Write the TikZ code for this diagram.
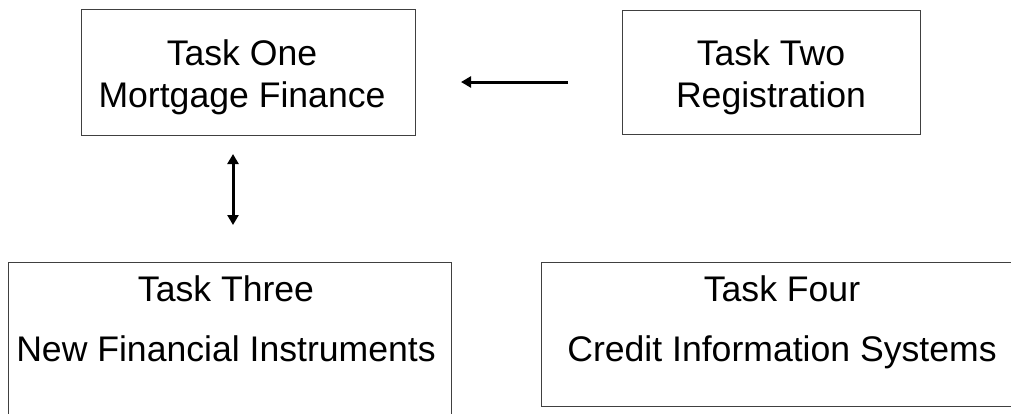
\documentclass[tikz,border=0pt]{standalone}
\usepackage{fontspec}
\setmainfont{Liberation Sans}
\usetikzlibrary{arrows.meta}
\begin{document}
\begin{tikzpicture}[x=1pt,y=-1pt,
  box/.style={draw=black!75, line width=1pt, inner sep=0pt, outer sep=0pt},
  lbl/.style={align=center, inner sep=0pt, font=\fontsize{35.6}{42}\selectfont},
  lblwide/.style={align=center, inner sep=0pt, font=\fontsize{35.6}{60}\selectfont},
  link/.style={line width=3pt},
  tip/.tip={Triangle[length=10pt,width=11pt]}]
\useasboundingbox (0,0) rectangle (1011,413);
% boxes
\node[box, minimum width=334, minimum height=126] (t1) at (248,72.5) {};
\node[box, minimum width=298, minimum height=124] (t2) at (771,72) {};
\node[box, minimum width=443, minimum height=180] (t3) at (229.5,352) {};
\node[box, minimum width=482, minimum height=144] (t4) at (782,334) {};
% labels
\node[lbl] (l1) at (242,77) {Task One\\Mortgage Finance};
\node[lbl] (l2) at (771,77) {Task Two\\Registration};
\node[lblwide] (l3) at (226,318.5) {Task Three\\New Financial Instruments};
\node[lblwide] (l4) at (782,322) {Task Four\\Credit Information Systems};
% connectors
\coordinate (a1s) at (568,82);
\coordinate (a1e) at (461,82);
\coordinate (a2t) at (233,154);
\coordinate (a2b) at (233,225);
\draw[link,-tip] (a1s) -- (a1e);
\draw[link,tip-tip] (a2t) -- (a2b);
\end{tikzpicture}
\end{document}
